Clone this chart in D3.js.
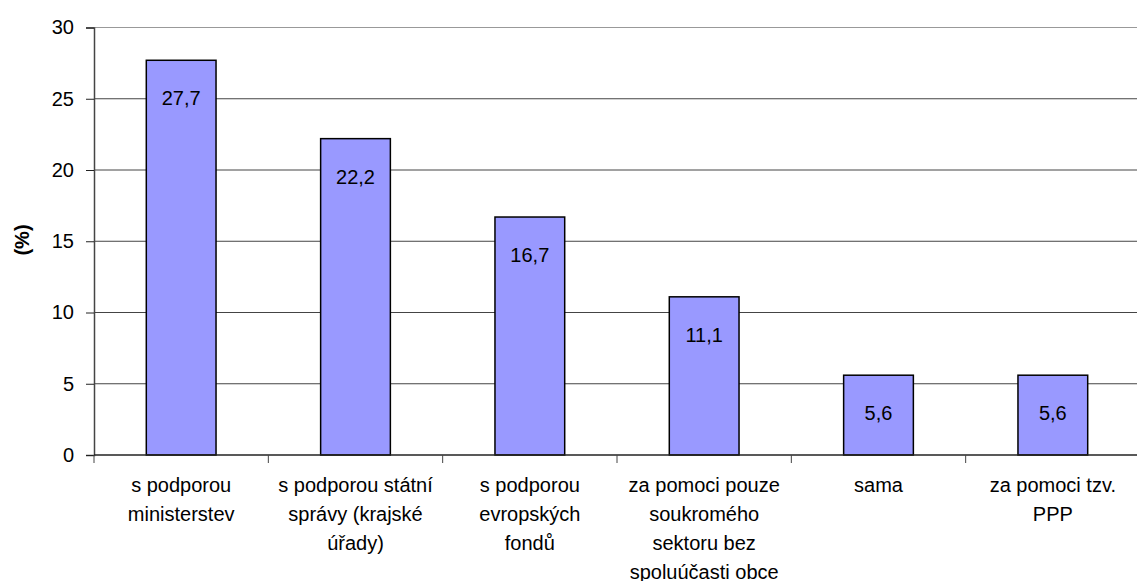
<!DOCTYPE html>
<html>
<head>
	<script src="https://d3js.org/d3.v7.min.js"></script>
	<style>
		body { margin: 0; background: #fff; }
		text { font-family: "Liberation Sans", Arial, sans-serif; fill: #000; }
	</style>
</head>
<body>
	<div class="chart"></div>
	<script>
		var categories = [
			["s podporou", "ministerstev"],
			["s podporou státní", "správy (krajské", "úřady)"],
			["s podporou", "evropských", "fondů"],
			["za pomoci pouze", "soukromého", "sektoru bez", "spoluúčasti obce"],
			["sama"],
			["za pomoci tzv.", "PPP"]
		];
		var values = [27.7, 22.2, 16.7, 11.1, 5.6, 5.6];
		var yTicks = [0, 5, 10, 15, 20, 25, 30];

		var w = 1137, h = 581;
		var plotLeft = 94, plotRight = 1140, plotTop = 27.5, plotBottom = 455;

		var svg = d3.select(".chart")
			.append("svg")
			.attr("width", w)
			.attr("height", h);

		var x = d3.scaleBand()
			.domain(d3.range(values.length))
			.range([plotLeft, plotRight])
			.paddingInner(0.6)
			.paddingOuter(0.3);
		var step = x.step();

		var y = d3.scaleLinear().domain([0, 30]).range([plotBottom, plotTop]);

		// grid lines
		svg.append("g")
			.selectAll("line")
			.data(yTicks.filter(function(d) { return d > 0; }))
			.enter()
			.append("line")
			.attr("x1", plotLeft).attr("x2", w)
			.attr("y1", function(d) { return y(d); })
			.attr("y2", function(d) { return y(d); })
			.attr("stroke", function(d) { return d == 30 ? "#999" : "#444"; })
			.attr("stroke-width", 1);

		// y axis
		var yAxis = svg.append("g")
			.attr("transform", "translate(" + plotLeft + ",0)")
			.call(d3.axisLeft(y).tickValues(yTicks).tickSize(8).tickPadding(12).tickFormat(d3.format("d")));
		yAxis.select(".domain").attr("stroke", "#444").attr("stroke-width", 1.5);
		yAxis.selectAll(".tick line").attr("stroke", "#222");
		yAxis.selectAll("text")
			.style("font-family", '"Liberation Sans", Arial, sans-serif')
			.style("font-size", "20px")
			.attr("fill", "#000");

		// bars
		svg.append("g")
			.selectAll("rect")
			.data(values)
			.enter()
			.append("rect")
			.attr("x", function(d, i) { return x(i); })
			.attr("y", function(d) { return y(d); })
			.attr("width", x.bandwidth())
			.attr("height", function(d) { return plotBottom - y(d); })
			.attr("fill", "#9999ff")
			.attr("stroke", "#000")
			.attr("stroke-width", 1.5);

		// value labels
		svg.append("g")
			.selectAll("text")
			.data(values)
			.enter()
			.append("text")
			.attr("x", function(d, i) { return x(i) + x.bandwidth() / 2; })
			.attr("y", function(d) { return y(d) + 38; })
			.attr("dy", "0.35em")
			.attr("text-anchor", "middle")
			.style("font-size", "20px")
			.text(function(d) { return String(d).replace(".", ","); });

		// x axis line and ticks
		svg.append("line")
			.attr("x1", plotLeft).attr("x2", w)
			.attr("y1", plotBottom).attr("y2", plotBottom)
			.attr("stroke", "#222").attr("stroke-width", 1.5);
		svg.append("g")
			.selectAll("line")
			.data(d3.range(values.length + 1))
			.enter()
			.append("line")
			.attr("x1", function(i) { return plotLeft + i * step; })
			.attr("x2", function(i) { return plotLeft + i * step; })
			.attr("y1", plotBottom).attr("y2", plotBottom + 8)
			.attr("stroke", "#444");

		// category labels
		var cat = svg.append("g")
			.selectAll("text")
			.data(categories)
			.enter()
			.append("text")
			.attr("text-anchor", "middle")
			.style("font-size", "20px")
			.attr("transform", function(d, i) {
				return "translate(" + (x(i) + x.bandwidth() / 2) + ",492)";
			});
		cat.selectAll("tspan")
			.data(function(d) { return d; })
			.enter()
			.append("tspan")
			.attr("x", 0)
			.attr("y", function(d, j) { return j * 29; })
			.text(function(d) { return d; });

		// y title
		svg.append("text")
			.attr("transform", "translate(29,240) rotate(-90)")
			.attr("text-anchor", "middle")
			.style("font-size", "20px")
			.style("font-weight", "bold")
			.text("(%)");
	</script>
</body>
</html>
